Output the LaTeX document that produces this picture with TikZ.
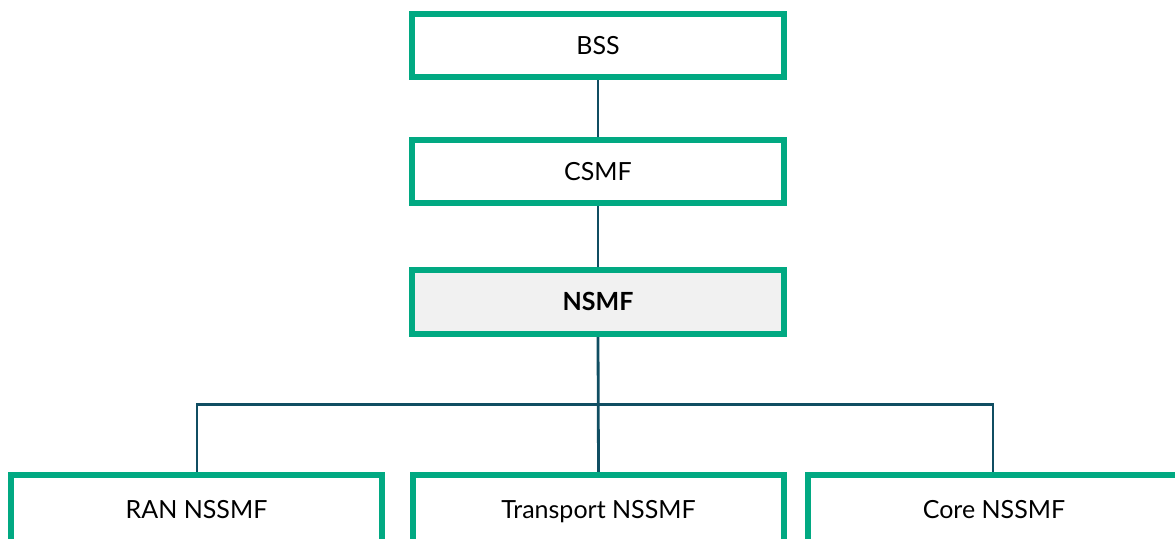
\documentclass[tikz,border=0pt]{standalone}
\usepackage{fontspec}
\setmainfont{Lato}
\usetikzlibrary{backgrounds}
\definecolor{hpegreen}{RGB}{1,169,130}
\definecolor{linkcol}{RGB}{16,78,98}
\definecolor{nsfill}{RGB}{241,241,241}
\begin{document}
\begin{tikzpicture}[x=1pt,y=-1pt,
  box/.style={draw=hpegreen, line width=6pt, fill=white, rectangle,
    minimum width=372pt, minimum height=63pt, inner sep=0pt,
    text height=17.5pt, text depth=0pt,
    font=\fontsize{25}{29}\selectfont, text=black},
  link/.style={draw=linkcol, line width=2.8pt}]
\useasboundingbox (0,0) rectangle (1175,538);
\clip (0,0) rectangle (1175,538);
\node[box] (bss) at (598,45.5) {BSS};
\node[box] (csmf) at (598,171.5) {CSMF};
\node[box, fill=nsfill, minimum height=64pt, font=\fontsize{25}{29}\selectfont\bfseries] (nsmf) at (598,302) {NSMF};
\node[box, minimum width=371pt, minimum height=70pt] (ran) at (196.5,510) {RAN NSSMF};
\node[box, minimum width=371pt, minimum height=70pt] (tr) at (598.5,510) {Transport NSSMF};
\node[box, minimum width=372pt, minimum height=70pt] (core) at (994,510) {Core NSSMF};
\coordinate (bus) at (598,404.5);
\begin{scope}[on background layer]
\draw[link] (bss.south) -- (csmf.north);
\draw[link] (csmf.south) -- (nsmf.north);
\draw[link] (nsmf.south) -- (tr.north);
\draw[link] (ran.north -| 197,0) |- (bus) -| (core.north -| 993,0);
\end{scope}
\end{tikzpicture}
\end{document}
